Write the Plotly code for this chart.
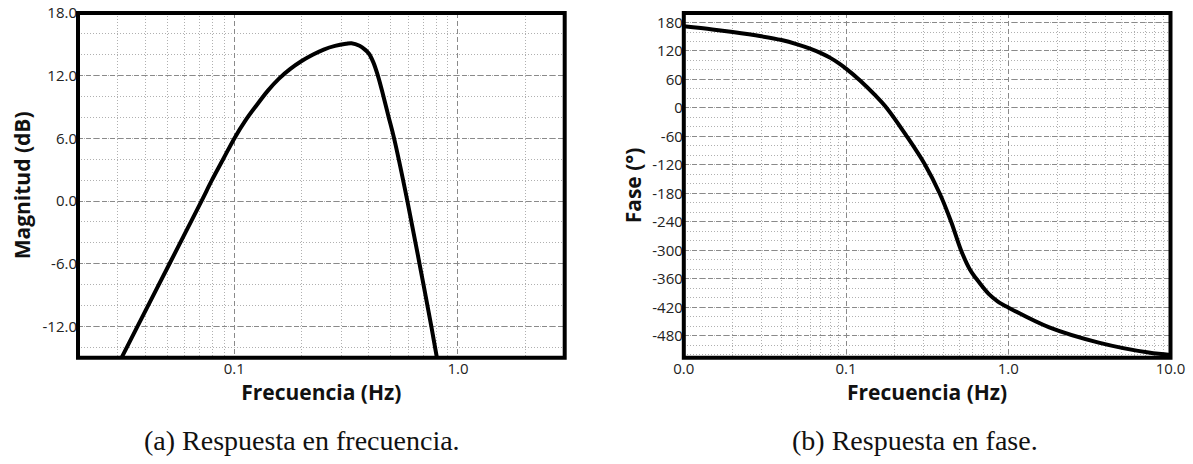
import numpy as np
import plotly.graph_objects as go

# ---- data ----
mag_freq = [0.0313, 0.0369, 0.0513, 0.0713, 0.0794, 0.0891, 0.1, 0.112, 0.126, 0.141, 0.158, 0.178,
            0.2, 0.224, 0.251, 0.282, 0.316, 0.334, 0.363, 0.385, 0.400, 0.418, 0.437, 0.462,
            0.489, 0.518, 0.594, 0.673, 0.760, 0.805]
mag_db = [-15, -12, -6, 0, 2, 4, 6, 7.7, 9.2, 10.55, 11.7, 12.65,
          13.4, 14.0, 14.5, 14.85, 15.05, 15.1, 14.86, 14.47, 14.1, 13.3, 12.1, 10.2,
          8.1, 6.0, 0, -6, -12, -15]

phase_freq = [0.01, 0.015, 0.02, 0.03, 0.04, 0.05, 0.06, 0.07, 0.08, 0.09, 0.1, 0.122, 0.15, 0.178,
              0.235, 0.305, 0.378, 0.445, 0.512, 0.58, 0.664, 0.76, 0.859, 1.0, 1.79, 3.61, 7.33, 10]
phase_deg = [172, 165.5, 160, 151, 143, 134, 125, 115.5, 105.5, 94.5, 83, 58, 28, 0,
             -58, -118, -180, -240, -300, -340, -368, -392, -407, -420, -462, -494, -515, -520]

mag_yticks = [-12, -6, 0, 6, 12, 18]
phase_yticks = [-480, -420, -360, -300, -240, -180, -120, -60, 0, 60, 120, 180]
mag_xticks = [0.1, 1.0]
mag_xtext = ["0.1", "1.0"]
phase_xticks = [0.01, 0.1, 1.0, 10.0]
phase_xtext = ["0.0", "0.1", "1.0", "10.0"]

W, H = 1193, 464
TICKFONT = dict(family="Open Sans", size=15, color="#222")
TITLEFONT = dict(family="Open Sans", size=21, color="#111", weight="bold")
MAJ = "#8a8a8a"
MIN = "#b0b0b0"
MAJDASH = "5px,3px"
MINDASH = "1px,2px"


def decade_minors(lo, hi):
    out = []
    for e in range(lo, hi):
        for m in range(2, 10):
            out.append(m * 10 ** e)
    return out


fig = go.Figure()
fig.add_trace(go.Scatter(x=mag_freq, y=mag_db, mode="lines",
                         line=dict(color="black", width=4, shape="spline", smoothing=1.0),
                         xaxis="x", yaxis="y", showlegend=False, hoverinfo="skip"))
fig.add_trace(go.Scatter(x=phase_freq, y=phase_deg, mode="lines",
                         line=dict(color="black", width=4, shape="spline", smoothing=1.0),
                         xaxis="x2", yaxis="y2", showlegend=False, hoverinfo="skip"))

ydom = [1 - 357.8 / H, 1 - 13 / H]
common_axis = dict(showline=False, automargin=False,
                   showgrid=True, gridcolor=MAJ, griddash=MAJDASH, gridwidth=1,
                   ticks="", tickfont=TICKFONT, zeroline=False, title_font=TITLEFONT)

mag_minor_x = [v for v in decade_minors(-2, 1) if 0.02 <= v <= 3.0001]
fig.update_layout(
    width=W, height=H,
    margin=dict(l=0, r=0, t=0, b=0),
    paper_bgcolor="white", plot_bgcolor="white",
    xaxis=dict(common_axis, type="log", domain=[78 / W, 564.7 / W],
               range=[np.log10(0.02), np.log10(3.0)],
               tickvals=mag_xticks, ticktext=mag_xtext,
               minor=dict(tickvals=mag_minor_x, showgrid=True, gridcolor=MIN, griddash=MINDASH, gridwidth=1, ticklen=0),
               title=dict(text="Frecuencia (Hz)", standoff=4), anchor="y"),
    yaxis=dict(common_axis, domain=ydom, range=[-15, 18],
               tickvals=mag_yticks, ticktext=[f"{v:.1f}" for v in mag_yticks],
               minor=dict(dtick=2, showgrid=True, gridcolor=MIN, griddash=MINDASH, gridwidth=1, ticklen=0),
               title=dict(text="Magnitud (dB)", standoff=6), anchor="x"),
    xaxis2=dict(common_axis, type="log", domain=[683.8 / W, 1170.5 / W],
                range=[-2, 1],
                tickvals=phase_xticks, ticktext=phase_xtext,
                minor=dict(tickvals=decade_minors(-2, 1), showgrid=True, gridcolor=MIN, griddash=MINDASH, gridwidth=1, ticklen=0),
                title=dict(text="Frecuencia (Hz)", standoff=4), anchor="y2"),
    yaxis2=dict(common_axis, domain=ydom, range=[-526, 200],
                tickvals=phase_yticks, ticktext=[f"{v:d}" for v in phase_yticks],
                minor=dict(dtick=20, showgrid=True, gridcolor=MIN, griddash=MINDASH, gridwidth=1, ticklen=0),
                title=dict(text="Fase (°)", standoff=4), anchor="x2"),
)

# thick frames centred on the plot-area edges
for xr, yr in (("x", "y"), ("x2", "y2")):
    fig.add_shape(type="rect", xref=f"{xr} domain", yref=f"{yr} domain", x0=0, x1=1, y0=0, y1=1,
                  line=dict(color="black", width=4), fillcolor="rgba(0,0,0,0)", layer="above")

CAPFONT = dict(family="Liberation Serif", size=28, color="#111")
fig.add_annotation(text="(a) Respuesta en frecuencia.", x=302 / W, y=1 - 440 / H, xref="paper", yref="paper",
                   showarrow=False, font=CAPFONT, xanchor="center", yanchor="middle")
fig.add_annotation(text="(b) Respuesta en fase.", x=915 / W, y=1 - 440 / H, xref="paper", yref="paper",
                   showarrow=False, font=CAPFONT, xanchor="center", yanchor="middle")

fig.write_html("out.html", config={"displayModeBar": False, "staticPlot": True},
               post_script="document.body.style.margin='0';document.body.style.overflow='hidden';")
